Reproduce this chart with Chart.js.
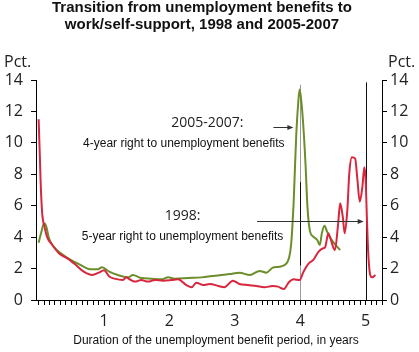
<!DOCTYPE html>
<html>
<head>
<meta charset="utf-8">
<script src="https://cdn.jsdelivr.net/npm/chart.js@4"></script>
<style>
html,body{margin:0;padding:0;background:#fff;}
#wrap{width:419px;height:352px;}
</style>
</head>
<body>
<div id="wrap"><canvas id="c" width="419" height="352"></canvas></div>
<script>
// ---- Data (years, percent) ----
const titleLines = ["Transition from unemployment benefits to", "work/self-support, 1998 and 2005-2007"];
const xAxisTitle = "Duration of the unemployment benefit period, in years";
const unitLabel = "Pct.";
const yTicks = [0, 2, 4, 6, 8, 10, 12, 14];
const xLabels = [1, 2, 3, 4, 5];

const years1998 = [0.00,0.02,0.03,0.055,0.09,0.13,0.21,0.31,0.44,0.57,0.69,0.82,0.92,1.00,1.08,1.16,1.29,1.34,1.39,1.47,1.57,1.67,1.78,1.90,2.03,2.13,2.26,2.34,2.41,2.52,2.62,2.75,2.84,2.97,3.07,3.20,3.33,3.45,3.58,3.66,3.75,3.82,3.90,3.99,4.05,4.13,4.20,4.28,4.35,4.38,4.43,4.46,4.53,4.58,4.61,4.65,4.68,4.72,4.75,4.79,4.84,4.87,4.91,4.95,4.98,5.00,5.02,5.04,5.07,5.10,5.15];
const values1998 = [11.5,9.0,7.6,5.5,4.67,4.0,3.5,2.97,2.65,2.23,1.8,1.59,1.74,1.9,1.49,1.36,1.27,1.44,1.32,1.17,1.27,1.17,1.27,1.23,1.27,1.32,0.95,0.81,1.10,0.95,1.02,0.89,0.81,1.23,1.02,0.95,0.89,0.81,0.89,0.85,0.70,1.10,1.32,1.27,1.80,2.33,2.55,3.08,3.29,3.35,4.24,3.93,3.18,4.88,6.15,5.30,4.24,5.73,8.06,9.08,9.0,7.85,6.26,7.2,8.44,7.64,5.1,2.97,1.59,1.44,1.59];

const years2005 = [0.00,0.04,0.08,0.10,0.16,0.23,0.34,0.49,0.64,0.80,0.90,0.97,1.08,1.21,1.37,1.44,1.57,1.72,1.88,1.98,2.08,2.29,2.49,2.70,2.92,3.07,3.23,3.38,3.48,3.58,3.68,3.79,3.83,3.86,3.88,3.90,3.92,3.94,3.97,3.99,4.01,4.04,4.08,4.11,4.15,4.20,4.26,4.30,4.33,4.37,4.41,4.45,4.52,4.61];
const values2005 = [3.65,4.3,4.85,4.85,3.9,3.4,2.97,2.55,2.23,1.95,1.95,2.08,1.80,1.59,1.44,1.59,1.40,1.36,1.32,1.44,1.36,1.40,1.44,1.55,1.65,1.74,1.59,1.85,1.74,2.06,2.12,2.33,2.7,3.5,4.7,6.3,8.5,10.6,12.6,13.4,12.9,11.5,8.7,5.94,4.35,4.03,3.82,3.5,4.24,4.73,4.35,4.03,3.6,3.18];

const label1998 = "1998:";
const note1998 = "5-year right to unemployment benefits";
const label2005 = "2005-2007:";
const note2005 = "4-year right to unemployment benefits";

const toPts = (xs, ys) => xs.map((x, i) => ({x: x, y: ys[i]}));

const monthTicks = [];
for (let k = 0; k <= 63; k++) monthTicks.push({value: k / 12});

const NUM_FONT = "'Open Sans', 'Noto Sans', sans-serif";
const TXT_FONT = "'Liberation Sans', Arial, sans-serif";

function arrow(ctx, x1, y1, x2, y2) {
  ctx.beginPath(); ctx.moveTo(x1, y1); ctx.lineTo(x2 - 5, y2); ctx.stroke();
  ctx.beginPath(); ctx.moveTo(x2, y2); ctx.lineTo(x2 - 6, y2 - 2.5); ctx.lineTo(x2 - 6, y2 + 2.5); ctx.closePath(); ctx.fill();
}

const decor = {
  id: 'decor',
  beforeDatasetsDraw(chart) {
    const ctx = chart.ctx, xs = chart.scales.x, ys = chart.scales.y;
    ctx.save();
    const x4 = xs.getPixelForValue(4), x5 = xs.getPixelForValue(5);
    ctx.lineWidth = 1;
    ctx.strokeStyle = '#9a9a9a';
    ctx.beginPath(); ctx.moveTo(Math.round(x4) + 0.5, ys.getPixelForValue(13.7)); ctx.lineTo(Math.round(x4) + 0.5, ys.getPixelForValue(0)); ctx.stroke();
    ctx.strokeStyle = '#111';
    ctx.beginPath(); ctx.moveTo(Math.round(x4) + 0.5, ys.getPixelForValue(7.5)); ctx.lineTo(Math.round(x4) + 0.5, ys.getPixelForValue(2.2)); ctx.stroke();
    ctx.beginPath(); ctx.moveTo(Math.round(x5) + 0.5, ys.getPixelForValue(13.85)); ctx.lineTo(Math.round(x5) + 0.5, ys.getPixelForValue(0)); ctx.stroke();
    ctx.restore();
  },
  afterDraw(chart) {
    const ctx = chart.ctx, xs = chart.scales.x, ys = chart.scales.y;
    ctx.save();
    ctx.textBaseline = 'middle';
    ctx.fillStyle = '#111';
    ctx.font = "bold 15px " + TXT_FONT;
    ctx.textAlign = 'center';
    ctx.fillText(titleLines[0], 202, 8);
    ctx.fillText(titleLines[1], 202, 25);
    ctx.font = "16px " + NUM_FONT;
    ctx.fillStyle = '#222';
    ctx.textAlign = 'left';
    ctx.fillText(unitLabel, 4, 62);
    ctx.fillText(unitLabel, 388, 62);
    ctx.font = "12px " + TXT_FONT;
    ctx.fillStyle = '#111';
    ctx.textAlign = 'center';
    ctx.fillText(xAxisTitle, 216, 341);
    ctx.font = "14px " + NUM_FONT;
    ctx.fillStyle = '#222';
    ctx.fillText(label2005, xs.getPixelForValue(2.58), ys.getPixelForValue(11.29));
    ctx.fillText(label1998, xs.getPixelForValue(2.2), ys.getPixelForValue(5.35));
    ctx.font = "12px " + TXT_FONT;
    ctx.fillStyle = '#111';
    ctx.textAlign = 'left';
    ctx.fillText(note2005, xs.getPixelForValue(0.68), ys.getPixelForValue(9.97));
    ctx.fillText(note1998, xs.getPixelForValue(0.66), ys.getPixelForValue(4.03));
    ctx.strokeStyle = '#333'; ctx.fillStyle = '#333'; ctx.lineWidth = 1;
    const a1y = Math.round(ys.getPixelForValue(11.0)) + 0.5;
    arrow(ctx, xs.getPixelForValue(3.59), a1y, xs.getPixelForValue(3.895), a1y);
    const a2y = Math.round(ys.getPixelForValue(5.0)) + 0.5;
    arrow(ctx, xs.getPixelForValue(3.34), a2y, xs.getPixelForValue(4.97), a2y);
    ctx.restore();
  }
};

const yCommon = (pos, pad, w) => ({
  type: 'linear', position: pos, min: 0, max: 14,
  afterBuildTicks: s => { s.ticks = yTicks.map(v => ({value: v})); },
  ticks: {font: {family: NUM_FONT, size: 16}, color: '#222', padding: pad, autoSkip: false},
  grid: {display: true, drawOnChartArea: false, drawTicks: true, tickLength: 5, color: '#000', lineWidth: 1},
  border: {display: true, color: '#000', width: 1},
  afterFit: s => { s.width = w; }
});

new Chart(document.getElementById('c'), {
  type: 'line',
  data: {
    datasets: [
      {label: '1998', data: toPts(years1998, values1998), borderColor: '#d7263d', borderWidth: 2, pointRadius: 0, cubicInterpolationMode: 'monotone', fill: false},
      {label: '2005-2007', data: toPts(years2005, values2005), borderColor: '#6b8e2a', borderWidth: 2, pointRadius: 0, cubicInterpolationMode: 'monotone', fill: false}
    ]
  },
  options: {
    responsive: false, animation: false, devicePixelRatio: 1,
    layout: {padding: {top: 80, left: 0, right: 0, bottom: 0}},
    plugins: {legend: {display: false}, title: {display: false}, tooltip: {enabled: false}},
    scales: {
      x: {
        type: 'linear', min: -0.04, max: 5.25,
        afterBuildTicks: s => { s.ticks = monthTicks.map(t => ({value: t.value})); },
        ticks: {
          autoSkip: false, maxRotation: 0, font: {family: NUM_FONT, size: 16}, color: '#222', padding: 7,
          callback: v => (xLabels.indexOf(v) >= 0 ? String(v) : '')
        },
        grid: {display: true, drawOnChartArea: false, drawTicks: true, tickLength: 5, color: '#000', lineWidth: 1},
        border: {display: true, color: '#000', width: 1},
        afterFit: s => { s.height = 52; }
      },
      y: yCommon('left', 8, 36),
      y2: yCommon('right', 3, 37)
    }
  },
  plugins: [decor]
});
</script>
</body>
</html>
